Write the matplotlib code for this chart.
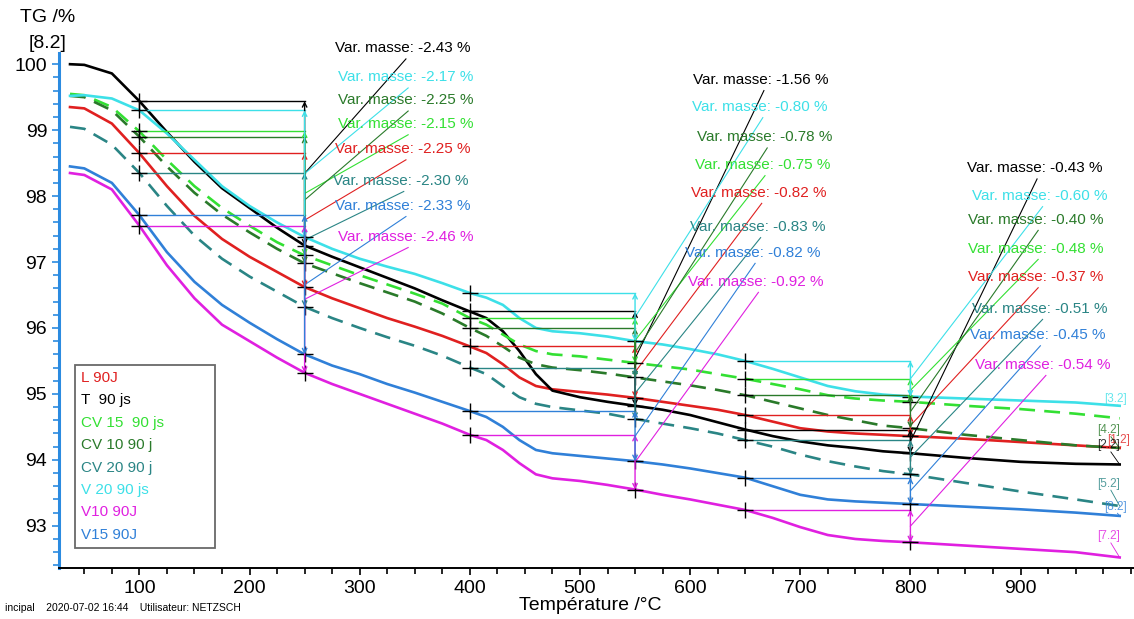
import matplotlib
matplotlib.use("Agg")
import matplotlib.pyplot as plt
from matplotlib.ticker import MultipleLocator

plt.rcParams['font.family'] = ['Liberation Sans', 'DejaVu Sans']

# temperatures (°C) shared by all curves
temps = [37, 50, 75, 100, 125, 150, 175, 200, 225, 250, 275, 300, 325, 350, 375,
         400, 415, 430, 445, 460, 475, 500, 525, 550, 575, 600, 625, 650, 675,
         700, 725, 750, 775, 800, 850, 900, 950, 990]

tg_L = [99.35, 99.33, 99.10, 98.65, 98.15, 97.70, 97.35, 97.08, 96.85, 96.62, 96.45, 96.30, 96.15,
        96.02, 95.88, 95.72, 95.62, 95.45, 95.25, 95.12, 95.07, 95.03, 94.99, 94.94, 94.88, 94.82,
        94.76, 94.68, 94.58, 94.48, 94.43, 94.40, 94.38, 94.36, 94.32, 94.27, 94.22, 94.18]
tg_T = [100.00, 99.99, 99.86, 99.44, 98.97, 98.52, 98.12, 97.82, 97.52, 97.25, 97.08, 96.92, 96.76,
        96.60, 96.42, 96.25, 96.15, 95.95, 95.65, 95.30, 95.05, 94.95, 94.88, 94.82, 94.76, 94.68,
        94.57, 94.46, 94.36, 94.28, 94.22, 94.18, 94.13, 94.10, 94.03, 93.97, 93.94, 93.93]
tg_CV15 = [99.55, 99.53, 99.35, 98.98, 98.55, 98.15, 97.82, 97.55, 97.30, 97.10, 96.95, 96.80, 96.66,
           96.52, 96.37, 96.15, 96.05, 95.90, 95.75, 95.65, 95.60, 95.57, 95.52, 95.47, 95.42, 95.37,
           95.30, 95.23, 95.15, 95.07, 94.98, 94.93, 94.90, 94.88, 94.82, 94.77, 94.70, 94.63]
tg_CV10 = [99.52, 99.50, 99.30, 98.90, 98.45, 98.05, 97.72, 97.45, 97.20, 96.98, 96.83, 96.68, 96.54,
           96.40, 96.22, 96.00, 95.88, 95.72, 95.55, 95.45, 95.40, 95.36, 95.31, 95.25, 95.19, 95.13,
           95.06, 94.98, 94.88, 94.78, 94.68, 94.60, 94.52, 94.48, 94.38, 94.30, 94.22, 94.18]
tg_CV20 = [99.05, 99.02, 98.78, 98.35, 97.85, 97.40, 97.05, 96.78, 96.55, 96.32, 96.15, 96.00, 95.86,
           95.73, 95.58, 95.40, 95.30, 95.12, 94.95, 94.85, 94.80, 94.75, 94.70, 94.62, 94.55, 94.48,
           94.40, 94.30, 94.20, 94.08, 93.98, 93.90, 93.83, 93.78, 93.65, 93.52, 93.40, 93.30]
tg_V20 = [99.52, 99.53, 99.48, 99.30, 98.95, 98.55, 98.15, 97.85, 97.60, 97.38, 97.20, 97.05, 96.93,
          96.82, 96.68, 96.53, 96.46, 96.35, 96.15, 96.00, 95.95, 95.92, 95.87, 95.80, 95.75, 95.68,
          95.60, 95.50, 95.38, 95.25, 95.12, 95.04, 94.99, 94.96, 94.93, 94.90, 94.87, 94.82]
tg_V10 = [98.35, 98.32, 98.10, 97.55, 96.95, 96.45, 96.05, 95.80, 95.55, 95.32, 95.15, 95.00, 94.85,
          94.70, 94.55, 94.38, 94.30, 94.15, 93.95, 93.78, 93.72, 93.68, 93.62, 93.55, 93.47, 93.40,
          93.32, 93.24, 93.12, 92.98, 92.86, 92.80, 92.77, 92.75, 92.70, 92.65, 92.60, 92.52]
tg_V15 = [98.45, 98.42, 98.20, 97.71, 97.15, 96.70, 96.35, 96.08, 95.83, 95.60, 95.43, 95.30, 95.15,
          95.02, 94.88, 94.74, 94.65, 94.50, 94.30, 94.15, 94.10, 94.06, 94.02, 93.98, 93.93, 93.87,
          93.80, 93.73, 93.60, 93.47, 93.40, 93.37, 93.35, 93.33, 93.29, 93.25, 93.20, 93.15]

names = ["L 90J", "T  90 js", "CV 15  90 js", "CV 10 90 j", "CV 20 90 j", "V 20 90 js", "V10 90J", "V15 90J"]
series = [tg_L, tg_T, tg_CV15, tg_CV10, tg_CV20, tg_V20, tg_V10, tg_V15]
colors = ["#e02020", "#000000", "#33e033", "#2a7a2a", "#2a8585", "#3de0e8", "#e020e0", "#3080d8"]
styles = ["-", "-", "--", "--", "--", "-", "-", "-"]
file_tags = ["[1.2]", "[2.2]", None, "[4.2]", "[5.2]", "[3.2]", "[7.2]", "[8.2]"]

# mass change steps (start, end) and reported values per curve (same order as names)
steps = [(100, 250), (400, 550), (650, 800)]
mass_change = [
    [-2.25, -2.43, -2.15, -2.25, -2.30, -2.17, -2.46, -2.33],
    [-0.82, -1.56, -0.75, -0.78, -0.83, -0.80, -0.92, -0.82],
    [-0.37, -0.43, -0.48, -0.40, -0.51, -0.60, -0.54, -0.45],
]

# label layout (data coords): x of text start, y of text centre
label_x = [
    [278, 278, 280, 280, 276, 280, 280, 278],
    [601, 603, 604, 606, 600, 602, 598, 595],
    [852, 851, 852, 852, 856, 856, 859, 854],
]
label_y = [
    [98.71, 100.24, 99.09, 99.45, 98.23, 99.80, 97.38, 97.85],
    [98.05, 99.76, 98.47, 98.89, 97.53, 99.35, 96.70, 97.14],
    [96.77, 98.42, 97.20, 97.64, 96.29, 98.00, 95.44, 95.89],
]
# file tag layout near the curve ends
tag_pos = [(989, 94.30), (980, 94.22), None, (980, 94.45), (980, 93.64), (986, 94.93), (980, 92.84), (986, 93.29)]

fig = plt.figure(figsize=(11.34, 6.19), dpi=100)
ax = fig.add_axes([59 / 1134, 51 / 619, 1075 / 1134, 515 / 619])

for vals, name, c, ls in zip(series, names, colors, styles):
    if ls == "--":
        ax.plot(temps, vals, color=c, lw=1.9, ls=(0, (6, 3.5)), label=name)
    else:
        ax.plot(temps, vals, color=c, lw=1.9, label=name)

for k, (t0, t1) in enumerate(steps):
    i0 = temps.index(t0)
    i1 = temps.index(t1)
    for j, vals in enumerate(series):
        v0 = vals[i0]
        v1 = vals[i1]
        c = colors[j]
        ax.plot([t0, t1], [v0, v0], color=c, lw=1.0)
        ax.annotate("", xy=(t1, v1), xytext=(t1, v0),
                    arrowprops=dict(arrowstyle="<->", color=c, lw=1.0, mutation_scale=8,
                                    shrinkA=0, shrinkB=0))
        ax.plot([t0, t1], [v0, v1], ls="none", marker="+", ms=11, mew=1.0, color="black")
        lx = label_x[k][j]
        ly = label_y[k][j]
        ax.plot([t1, lx + 64], [(v0 + v1) / 2, ly - 0.16], color=c, lw=0.8)
        ax.text(lx, ly, "Var. masse: %.2f %%" % mass_change[k][j], color=c,
                fontsize=11, va="center", ha="left", clip_on=False)

for j, vals in enumerate(series):
    if file_tags[j] is None:
        continue
    tx, ty = tag_pos[j]
    ax.text(tx, ty, file_tags[j], color=colors[j], fontsize=8.5, ha="center", va="center",
            alpha=0.8)
    ax.plot([tx + 2, temps[-1]], [ty - 0.1, vals[-1]], color=colors[j], lw=0.6)

ax.set_xlim(27, 1003)
ax.set_ylim(92.36, 100.17)

ax.spines["top"].set_visible(False)
ax.spines["right"].set_visible(False)
ax.spines["left"].set_color("#2b8be0")
ax.spines["left"].set_linewidth(2.2)
ax.spines["bottom"].set_linewidth(1.4)

ax.yaxis.set_major_locator(MultipleLocator(1))
ax.yaxis.set_minor_locator(MultipleLocator(0.2))
ax.xaxis.set_minor_locator(MultipleLocator(25))
ax.set_xticks([100, 200, 300, 400, 500, 600, 700, 800, 900])
ax.tick_params(axis="y", which="both", direction="out", colors="#2b8be0", labelcolor="black",
               labelsize=14, width=1.2)
ax.tick_params(axis="y", which="major", length=5)
ax.tick_params(axis="y", which="minor", length=4)
ax.tick_params(axis="x", which="both", direction="out", labelsize=14, width=1.2)
ax.tick_params(axis="x", which="major", length=5)
ax.tick_params(axis="x", which="minor", length=4)

leg = ax.legend(loc="lower left", bbox_to_anchor=(16 / 1075, 20 / 515, 140 / 1075, 185 / 515),
                mode="expand", handlelength=0, handletextpad=0, labelcolor="linecolor",
                fontsize=11, frameon=True, fancybox=False, edgecolor="#444444",
                labelspacing=0.55, borderpad=0.4, borderaxespad=0)
for h in leg.legend_handles:
    h.set_visible(False)
leg.get_frame().set_linewidth(1.3)

fig.text(48 / 1134, 1 - 18 / 619, "TG /%", fontsize=14, ha="center", va="center")
fig.text(48 / 1134, 1 - 44 / 619, "[8.2]", fontsize=14, ha="center", va="center")
fig.text(590 / 1134, 1 - 605 / 619, "Température /°C", fontsize=14, ha="center", va="center")
fig.text(5 / 1134, 1 - 608 / 619, "incipal    2020-07-02 16:44    Utilisateur: NETZSCH",
         fontsize=7.5, ha="left", va="center")

fig.savefig("out.png", dpi=100)
